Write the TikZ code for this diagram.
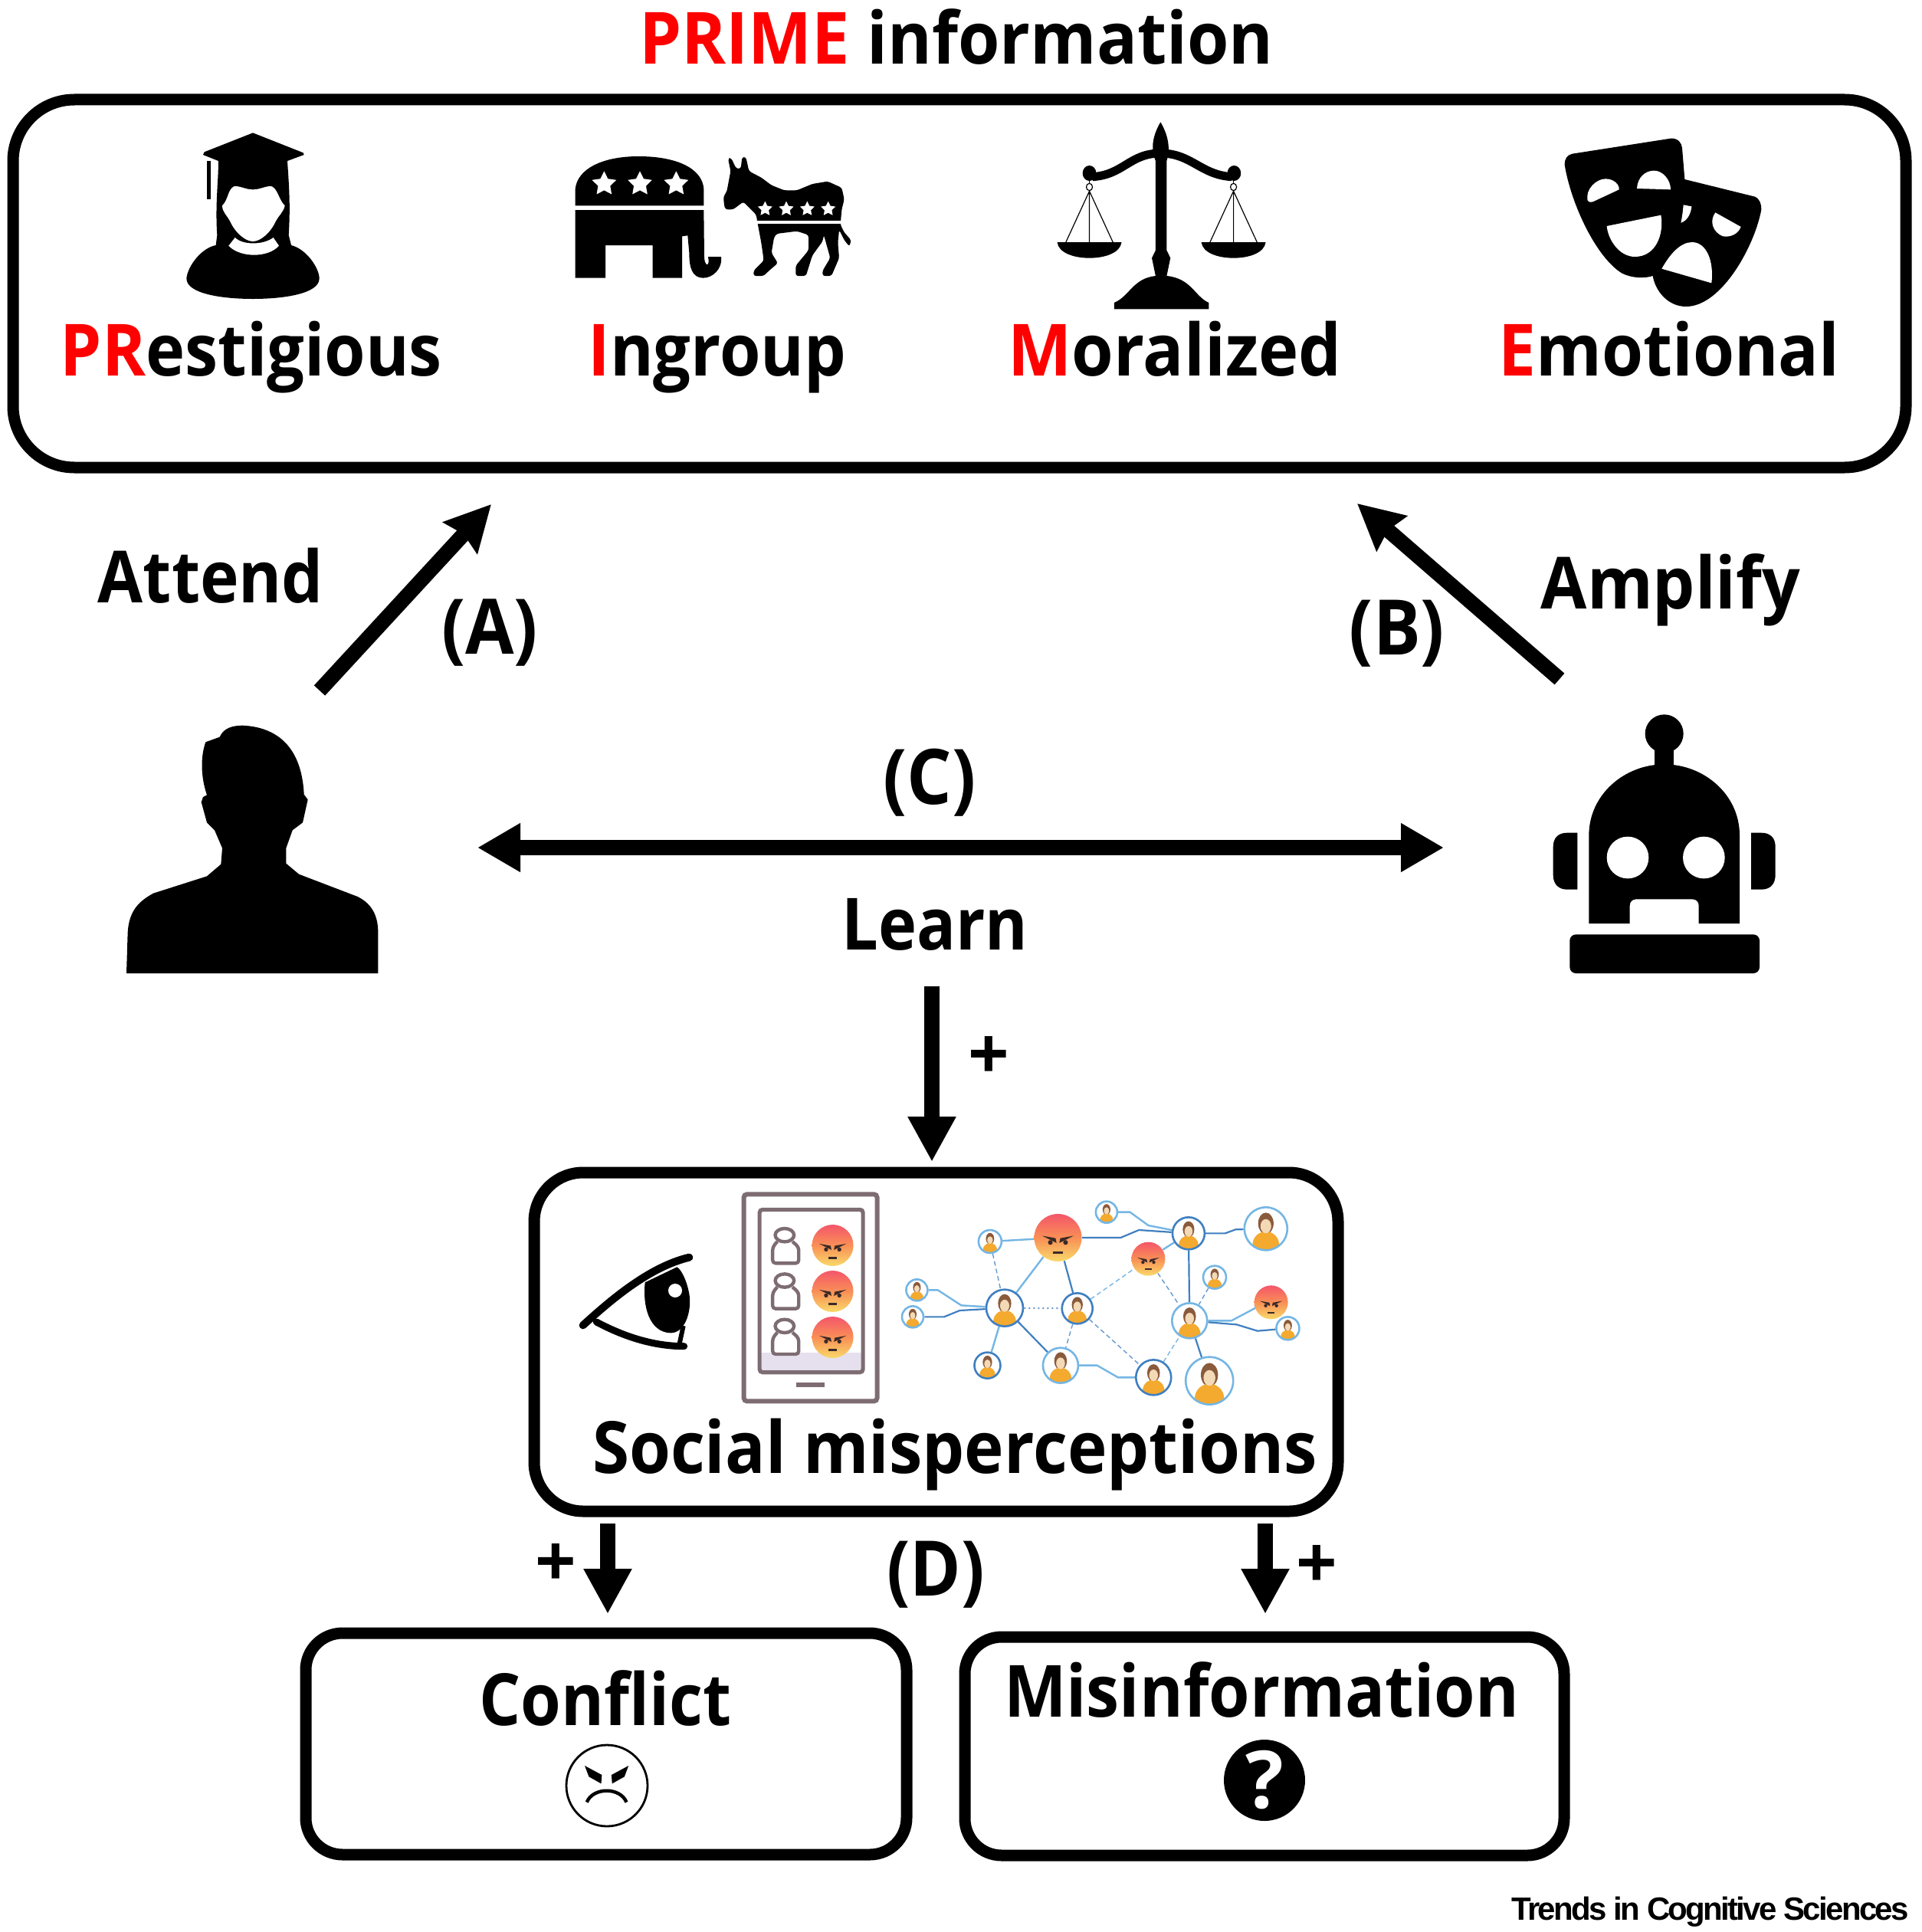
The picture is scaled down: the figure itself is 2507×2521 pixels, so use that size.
\documentclass[tikz,border=0pt]{standalone}
\usepackage{fontspec}
\usepackage{graphicx}
\setmainfont{Open Sans}
\newfontfamily\trendsf{Liberation Sans}[LetterSpace=-6.5]
\usetikzlibrary{arrows.meta,calc,backgrounds,shapes.geometric}
\definecolor{tabgrey}{HTML}{7D6C72}
\definecolor{lav}{HTML}{E6E0EE}
\definecolor{netlight}{HTML}{74B6E4}
\definecolor{netdark}{HTML}{3F7FC0}
\definecolor{skinc}{HTML}{F3D9B5}
\definecolor{hairc}{HTML}{8A5A3C}
\definecolor{bodyc}{HTML}{F4A92F}
\definecolor{angrytop}{HTML}{F4566A}
\definecolor{angrymid}{HTML}{F98F56}
\definecolor{angrybot}{HTML}{F9D96A}
\definecolor{facec}{HTML}{3A2A28}
\newcommand{\sx}[2]{\scalebox{#1}[1]{#2}}
\tikzset{
 lab/.style={inner sep=0pt,anchor=base,font=\fontsize{47}{50}\selectfont\bfseries},
 bigbox/.style={draw,line width=7.5pt,rounded corners=40pt,inner sep=0pt,minimum height=1pt},
 arr/.style={line width=9.75pt,-{Triangle[length=29.5pt,width=29.5pt]}},
 diagarr/.style={line width=9.75pt,-{Stealth[length=29.5pt,width=29.5pt,inset=3pt]}},
 biarr/.style={line width=9.75pt,{Triangle[length=28pt,width=30pt]}-{Triangle[length=28pt,width=30pt]}},
 zB/.style={shift={(1248,100)},x={0.40355pt},y={-0.16667pt}},
 zT/.style={shift={(698,1520)},x={0.34083pt},y={-0.16667pt}},
 zC/.style={shift={(692,1520)},x={0.34083pt},y={-0.16667pt}},
 zD/.style={shift={(680,2100)},x={0.44643pt},y={-0.16667pt}},
 iso/.style={x={0.16667pt},y={-0.16667pt}},
 netc/.style={circle,inner sep=0pt,draw=netlight,line width=1.3pt,fill=white},
 netd/.style={netc,draw=netdark},
 angry/.style={circle,inner sep=0pt,top color=angrytop,bottom color=angrybot,middle color=angrymid},
 esolid/.style={draw=netlight,line width=1.2pt},
 edark/.style={draw=netdark,line width=1.1pt},
 edash/.style={draw=netdark!80,line width=.7pt,densely dashed},
 tab/.style={draw=tabgrey,line width=3pt,rounded corners=2pt},
}
\newcommand{\starp}[4]{\fill[white] (#1,#2) +(-90:#3 and #4) -- +(-54:{.5*#3} and {.5*#4}) -- +(-18:#3 and #4) -- +(18:{.5*#3} and {.5*#4}) -- +(54:#3 and #4) -- +(90:{.5*#3} and {.5*#4}) -- +(126:#3 and #4) -- +(162:{.5*#3} and {.5*#4}) -- +(198:#3 and #4) -- +(234:{.5*#3} and {.5*#4}) -- cycle;}
\newcommand{\netp}[5][netc]{%
 \def\R{#5*0.5pt}%
 \node[#1,minimum size={#5*1pt},path picture={
   \fill[hairc] (path picture bounding box.center) ++(0pt,{.25*\R}) ellipse [x radius={.36*\R},y radius={.5*\R}];
   \fill[bodyc] (path picture bounding box.center) ++(0pt,{-.75*\R}) ellipse [x radius={.62*\R},y radius={.62*\R}];
   \fill[skinc] (path picture bounding box.center) ++(0pt,{.12*\R}) ellipse [x radius={.25*\R},y radius={.33*\R}];
 }] (#2) at (#3,#4) {};}
\newcommand{\angryp}[4]{%
 \def\R{#4*0.5pt}%
 \node[angry,minimum size={#4*1pt}] (#1) at (#2,#3) {};
 \fill[facec] (#1) +({-.66*\R},{.08*\R}) -- +({-.06*\R},{-.22*\R}) -- +({-.1*\R},{-.02*\R}) -- cycle;
 \fill[facec] (#1) +({.66*\R},{.08*\R}) -- +({.06*\R},{-.22*\R}) -- +({.1*\R},{-.02*\R}) -- cycle;
 \fill[facec] (#1) +({-.32*\R},{-.2*\R}) circle ({.1*\R}) +({.32*\R},{-.2*\R}) circle ({.1*\R});
 \draw[facec,line width={.1*\R}] (#1) +({-.2*\R},{-.62*\R}) -- +({.2*\R},{-.62*\R});}
\begin{document}
\begin{tikzpicture}[x=0.5pt,y=-0.5pt]
\useasboundingbox (0,0) rectangle (2507,2521);
% title
\node[lab] (title) at (1248,84) {\sx{.936}{\textcolor{red}{PRIME} information}};
% top box
\node[bigbox,minimum width=1235pt,minimum height=240pt] (prime) at (1252,370) {};
\node[lab] (presti) at (328,490) {\sx{.92}{\textcolor{red}{PR}estigious}};
\node[lab] (ingroup) at (936,490) {\sx{.92}{\textcolor{red}{I}ngroup}};
\node[lab] (moral) at (1533,490) {\sx{.94}{\textcolor{red}{M}oralized}};
\node[lab] (emot) at (2178,490) {\sx{.93}{\textcolor{red}{E}motional}};
% graduate
\begin{scope}[shift={(220,160)},iso]
\fill (330,40) -- (527,118) -- (530,126) -- (465,150) .. controls (470,230) and (478,320) .. (470,440) -- (480,480) .. controls (540,495) and (590,570) .. (590,610) .. controls (590,670) and (450,690) .. (330,690) .. controls (210,690) and (70,670) .. (70,610) .. controls (75,560) and (130,490) .. (185,480) -- (190,440) .. controls (182,320) and (195,230) .. (195,150) -- (135,126) -- (140,115) -- cycle;
\draw[line width=2.6pt] (158,150) -- (158,300);
\fill[white] (330,262) .. controls (360,262) and (385,245) .. (405,250) .. controls (430,265) and (430,300) .. (455,325) .. controls (450,350) and (430,365) .. (420,385) .. controls (400,430) and (360,465) .. (330,465) .. controls (300,465) and (260,430) .. (240,385) .. controls (230,365) and (210,350) .. (210,325) .. controls (235,300) and (230,265) .. (255,250) .. controls (275,245) and (300,262) .. (330,262) -- cycle;
\fill[white] (260,450) .. controls (290,480) and (370,480) .. (410,450) -- (432,482) .. controls (390,530) and (280,530) .. (235,482) -- cycle;
\end{scope}
% elephant and donkey
\begin{scope}[shift={(740,190)},iso]
\fill (32,235)--(32,170) .. controls (40,90) and (140,42) .. (280,42) .. controls (430,42) and (530,90) .. (535,170) -- (535,235) -- cycle;
\fill (32,252)--(535,252)--(537,440) .. controls (540,475) and (560,475) .. (552,435) -- (603,435) .. controls (610,480) and (570,520) .. (530,518) .. controls (490,515) and (478,480) .. (478,420) -- (472,352) -- (450,355) -- (450,518)--(335,518)--(335,390)--(150,390)--(150,518)--(32,518)-- cycle;
\starp{145}{150}{50}{50}\starp{285}{150}{50}{50}\starp{427}{150}{50}{50}
\fill[rounded corners=1.5pt] (615,235)--(612,200)--(625,180)--(640,100)--(630,50)--(642,48)--(662,90)--(680,90)--(685,45)--(700,45)--(712,100)--(760,125)--(800,155)--(850,175)--(900,175)--(960,150)--(1020,140)--(1075,165)--(1085,210)--(1075,250)--(1070,310)--(1085,340)--(1112,370)--(1105,395)--(1085,370)--(1065,330)--(1060,380)--(1065,440)--(1035,510)--(1000,510)--(1000,490)--(1030,440)--(1005,350)--(1000,375)--(960,430)--(935,510)--(895,510)--(895,470)--(945,410)--(945,350)--(900,335)--(820,345)--(810,360)--(800,420)--(825,460)--(790,490)--(770,510)--(730,510)--(730,490)--(770,450)--(760,380)--(745,300)--(740,270)--(690,220)--(650,250)--(620,250)--cycle;
\fill[white] (742,293) rectangle (1075,305);
\starp{775}{248}{30}{30}\starp{858}{248}{30}{30}\starp{940}{248}{30}{30}\starp{1022}{248}{30}{30}
\end{scope}
% scales
\begin{scope}[zB]
\fill (330,178) .. controls (345,240) and (345,290) .. (340,330)--(340,680)--(346,710)--(340,780) .. controls (380,790) and (385,860) .. (408,885)--(408,910)--(255,910)--(255,885) .. controls (280,860) and (285,790) .. (322,780)--(316,710)--(322,680)--(322,330) .. controls (315,290) and (315,240) .. (330,178)--cycle;
\draw[line width=5.5pt] (220,392) .. controls (270,385) and (280,300) .. (330,300) .. controls (380,300) and (395,385) .. (445,392);
\fill (215,378) ellipse (11 and 30);
\fill (449,378) ellipse (11 and 30);
\foreach \cx in {215,448}{
 \draw[line width=.7pt] (\cx,405)--(\cx,420);
 \draw[line width=.6pt] (\cx,432) ellipse (5 and 14);
 \draw[line width=.6pt] (\cx,448)--(\cx-38,648) (\cx,448)--(\cx,648) (\cx,448)--(\cx+38,648);
 \fill (\cx-52,648) -- (\cx+52,648) .. controls (\cx+50,690) and (\cx+25,710) .. (\cx,710) .. controls (\cx-25,710) and (\cx-50,690) .. (\cx-52,648) -- cycle;
}
\end{scope}
% masks
\begin{scope}[shift={(1950,160)},iso]
\fill (275,165) .. controls (275,140) and (285,127) .. (305,122) -- (690,62) .. controls (720,60) and (733,80) .. (735,100) -- (745,222) -- (1020,290) .. controls (1040,300) and (1045,320) .. (1045,340) .. controls (1020,480) and (890,720) .. (750,720) .. controls (680,720) and (630,660) .. (620,600) .. controls (590,610) and (540,610) .. (500,590) .. controls (400,530) and (300,320) .. (275,165) -- cycle;
\fill[white] (365,305) .. controls (355,260) and (400,220) .. (435,220) .. controls (470,220) and (490,245) .. (488,262) -- (385,310) .. controls (375,313) and (367,310) .. (365,305) -- cycle;
\fill[white] (558,258) .. controls (560,215) and (590,188) .. (625,188) .. controls (660,188) and (690,225) .. (690,262) -- cycle;
\fill[white] (440,405) -- (652,362) .. controls (665,440) and (630,525) .. (550,525) .. controls (490,525) and (445,460) .. (440,405) -- cycle;
\fill[white] (740,322) -- (772,328) .. controls (770,355) and (755,385) .. (730,392) .. controls (735,370) and (738,345) .. (740,322) -- cycle;
\fill[white] (865,352) -- (965,408) .. controls (955,435) and (925,450) .. (895,445) .. controls (855,430) and (840,385) .. (865,352) -- cycle;
\fill[white] (655,572) .. controls (690,510) and (730,468) .. (775,468) .. controls (830,470) and (860,540) .. (850,628) -- cycle;
\end{scope}
% attend, amplify, labels
\node[lab] (attend) at (275,786) {\sx{.91}{Attend}};
\node[lab] (amplify) at (2180,794) {\sx{.93}{Amplify}};
\node[lab,font=\fontsize{50}{50}\selectfont\bfseries] (labA) at (639,853) {\sx{.92}{(A)}};
\node[lab,font=\fontsize{50}{50}\selectfont\bfseries] (labB) at (1823,854) {\sx{.92}{(B)}};
\node[lab,font=\fontsize{50}{50}\selectfont\bfseries] (labC) at (1213,1049) {\sx{.92}{(C)}};
\node[lab] (learn) at (1220,1239) {\sx{.9}{Learn}};
\node[lab,font=\fontsize{50}{50}\selectfont\bfseries] (labD) at (1221,2082) {\sx{.9}{(D)}};
\node[lab] (plus1) at (1290,1408) {+};
\node[lab] (plus2) at (725,2070) {+};
\node[lab] (plus3) at (1718,2072) {+};
% arrows
\coordinate (a1) at (417,901); \coordinate (a2) at (641,658);
\coordinate (b1) at (2035,886); \coordinate (b2) at (1771,657);
\coordinate (c1) at (623,1106); \coordinate (c2) at (1884,1106);
\coordinate (d1) at (1216,1287); \coordinate (d2) at (1216,1516);
\coordinate (e1) at (793,1988); \coordinate (e2) at (793,2106);
\coordinate (f1) at (1651,1988); \coordinate (f2) at (1651,2106);
\draw[diagarr] (a1)--(a2);
\draw[diagarr] (b1)--(b2);
\draw[biarr] (c1)--(c2);
\draw[arr] (d1)--(d2);
\draw[arr] (e1)--(e2);
\draw[arr] (f1)--(f2);
% person
\begin{scope}[shift={(100,900)},iso]
\fill (195,1110) -- (200,950) .. controls (205,860) and (250,825) .. (300,797) -- (510,730) -- (565,683) -- (570,620) -- (540,550) -- (510,520) -- (488,440) -- (495,420) -- (510,412) .. controls (485,340) and (485,260) .. (505,205) -- (560,185) .. controls (575,150) and (610,140) .. (650,140) .. controls (760,145) and (880,200) .. (890,410) -- (905,430) -- (885,520) -- (845,550) -- (820,620) -- (820,680) -- (870,722) -- (1100,810) .. controls (1160,840) and (1180,890) .. (1180,950) -- (1180,1110) -- cycle;
\end{scope}
% robot
\begin{scope}[shift={(1950,900)},iso]
\fill (665,172) circle [x radius=75,y radius=75];
\fill (628,200) rectangle (702,320);
\fill (370,915)--(370,570) .. controls (370,410) and (510,292) .. (665,292) .. controls (820,292) and (960,410) .. (960,570)--(960,915)--(800,915)--(800,845) .. controls (800,830) and (790,820) .. (775,820)--(555,820) .. controls (540,820) and (530,830) .. (530,845)--(530,915)--cycle;
\fill[white] (522,657) circle [x radius=82,y radius=82];
\fill[white] (820,657) circle [x radius=82,y radius=82];
\fill (325,560)--(325,782)--(285,782) .. controls (250,782) and (230,760) .. (230,725)--(230,615) .. controls (230,580) and (250,560) .. (285,560)--cycle;
\fill (1005,560)--(1005,782)--(1045,782) .. controls (1080,782) and (1100,760) .. (1100,725)--(1100,615) .. controls (1100,580) and (1080,560) .. (1045,560)--cycle;
\fill[rounded corners=4pt] (295,958) rectangle (1038,1110);
\end{scope}
% social box
\node[bigbox,rounded corners=32pt,minimum width=524.5pt,minimum height=221pt] (social) at (1221.5,1751) {};
\node[lab] (soctext) at (1246,1922) {\sx{.927}{Social misperceptions}};
% eye
\begin{scope}[shift={(740,1620)},iso]
\draw[line width=5pt,line cap=round] (62,328) .. controls (170,230) and (320,100) .. (478,62);
\draw[line width=4.5pt,line cap=round] (115,315) .. controls (200,360) and (320,410) .. (458,410);
\fill (305,160) .. controls (295,250) and (320,355) .. (405,358) .. controls (460,358) and (485,280) .. (480,220) .. controls (475,170) and (450,110) .. (430,100) -- cycle;
\draw[line width=3pt] (455,330) -- (440,400);
\fill[white] (423,192) circle [x radius=27,y radius=27];
\end{scope}
\begin{scope}[zT]
% tablet
\fill[lav] (432,735) rectangle (626,805);
\draw[tab] (400,115) rectangle (655,925);
\draw[tab,line width=2.6pt] (430,175) rectangle (628,812);
\draw[tabgrey,line width=3pt] (500,862)--(555,862);
\foreach \uy in {0,178,356}{
 \draw[tabgrey,line width=2.2pt] (478,{\uy+275}) ellipse (18 and 26);
 \draw[tabgrey,line width=2.2pt,rounded corners=2pt] (464,{\uy+300})--(455,{\uy+322})--(455,{\uy+385})--(505,{\uy+385})--(505,{\uy+322})--(493,{\uy+300});
}
\angryp{tabA}{570}{315}{27}
\angryp{tabB}{570}{495}{27}
\angryp{tabC}{570}{675}{27}
\end{scope}
\begin{scope}[zC]
% network
\netp{n1}{880}{300}{15}
\angryp{big}{1010}{285}{31}
\netp{n2}{1103}{185}{14}
\netp[netd]{n3}{1260}{268}{21}
\netp{n4}{1408}{250}{28}
\angryp{ang2}{1183}{368}{22}
\netp{n5}{1310}{440}{15}
\angryp{ang3}{1418}{538}{22}
\netp{n6}{1450}{640}{15}
\netp{n7}{740}{490}{14}
\netp{n8}{732}{595}{14}
\netp[netd]{n9}{908}{560}{24}
\netp[netd]{n10}{1047}{562}{20}
\netp{n11}{1262}{610}{23}
\netp[netd]{n12}{875}{785}{17}
\netp{n13}{1015}{785}{23}
\netp[netd]{n14}{1193}{832}{23}
\netp{n15}{1300}{845}{31}
\begin{pgfonlayer}{background}
\draw[esolid] (n1)--(big);
\draw[esolid] (big)--(n9);
\draw[edark] (big)--(n10);
\draw[edark] (big) -- ++(120,0) -- ++(35,-30) -- (n3);
\draw[esolid] (n2) -- ++(45,0) -- ++(35,52) -- (n3);
\draw[edark] (n3) -- ++(70,0) -- ++(20,-15) -- (n4);
\draw[edark] (n3)--(n11);
\draw[esolid] (n3)--(ang2);
\draw[esolid] (n9)--(n12);
\draw[edark] (n9)--(n13);
\draw[esolid] (n13) -- ++(70,0) -- ++(40,47) -- (n14);
\draw[esolid] (n11) -- ++(80,0) -- ++(60,-65) -- (ang3);
\draw[edark] (n11) -- ++(90,15) -- ++(40,25) -- (n6);
\draw[esolid] (n7) -- ++(40,0) -- ++(45,60) -- (n9);
\draw[edark] (n8) -- ++(60,0) -- ++(30,-25) -- (n9);
\draw[edark] (n11)--(n15);
\draw[edash] (n1)--(n9);
\draw[edash,line width=1pt,dotted] (n9)--(n10);
\draw[edash,draw=netlight] (n10)--(ang2);
\draw[edash] (ang2)--(n11);
\draw[edash] (n5)--(n11);
\draw[edash] (n10)--(n13);
\draw[edash] (n10)--(n14);
\draw[edash,draw=netlight] (n14)--(n11);
\end{pgfonlayer}
\end{scope}
% conflict
\node[bigbox,rounded corners=24pt,minimum width=392pt,minimum height=144.5pt] (conflict) at (791,2275.5) {};
\node[lab] (conftext) at (790,2251) {\sx{.906}{Conflict}};
\node[circle,draw,line width=1.4pt,fill=white,minimum size=53pt,inner sep=0pt] (confface) at (792,2330) {};
\begin{scope}[zD]
\fill (93,612)--(118,648)--(117,682)--(99,655)--cycle;
\fill (157,612)--(132,648)--(133,682)--(151,655)--cycle;
\draw[line width=2.2pt] (96,755) .. controls (105,695) and (145,695) .. (154,755);
\end{scope}
% misinformation
\node[bigbox,rounded corners=24pt,minimum width=391pt,minimum height=142.5pt] (misinfo) at (1650,2278.5) {};
\node[lab] (mistext) at (1646,2240) {\sx{.92}{Misinformation}};
\node[circle,fill=black,minimum size=53pt,inner sep=0pt,text=white,font=\fontsize{52}{52}\selectfont\bfseries] (qmark) at (1650,2323) {?};
% credit
\node[inner sep=0pt,anchor=base east] (credit) at (2491,2505) {\trendsf\bfseries\fontsize{21}{24}\selectfont Trends in Cognitive Sciences};
\end{tikzpicture}
\end{document}
